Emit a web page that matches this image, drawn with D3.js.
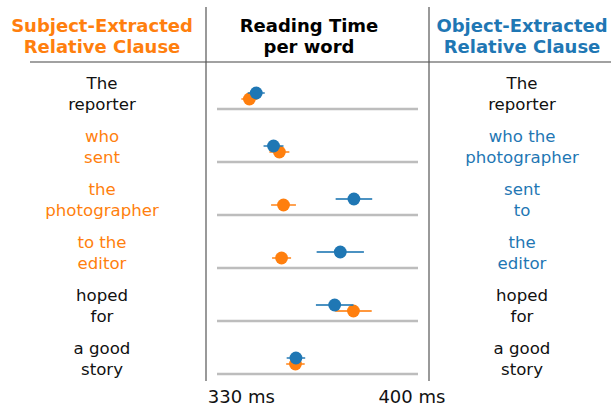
<!DOCTYPE html>
<html><head><meta charset="utf-8">
<script src="https://cdn.jsdelivr.net/npm/d3@7"></script>
<style>body{margin:0;background:#fff}svg{display:block}</style>
</head><body>
<svg id="c" width="611" height="407"></svg>
<script>
const subjLabels = [["The","reporter"],["who","sent"],["the","photographer"],["to the","editor"],["hoped","for"],["a good","story"]];
const objLabels  = [["The","reporter"],["who the","photographer"],["sent","to"],["the","editor"],["hoped","for"],["a good","story"]];
const subjHighlight = [false,true,true,true,false,false];
const objHighlight  = [false,true,true,true,false,false];
const subjTime = [333.3,345.6,347.3,346.5,376.0,352.2];
const subjErr  = [3.3,4.1,5.1,3.9,7.5,3.8];
const objTime  = [336.1,343.2,376.2,370.6,368.3,352.4];
const objErr   = [3.5,4.1,7.5,9.7,7.7,3.8];
const xTicks = [330,400];
const headers = [["Subject-Extracted","Relative Clause"],["Reading Time","per word"],["Object-Extracted","Relative Clause"]];

const ORANGE = "#ff7f0e", BLUE = "#1f77b4";
const svg = d3.select("#c");
const font = "DejaVu Sans, sans-serif";

const x = d3.scaleLinear().domain([320,402.5]).range([217,418]);
const y = d3.scalePoint().domain(d3.range(6)).range([109,374]);
const colX = [102, 309, 522];

// header texts
headers.forEach((h,i)=>{
  const t = svg.append("text").attr("x",colX[i]).attr("y",31.5)
    .attr("text-anchor","middle").attr("font-family",font).attr("font-weight","bold")
    .attr("font-size",18).attr("fill",[ORANGE,"#000",BLUE][i]);
  h.forEach((s,j)=>t.append("tspan").attr("x",colX[i]).attr("dy",j?21.5:0).text(s));
});

// frame lines
svg.append("line").attr("x1",30).attr("x2",611).attr("y1",62).attr("y2",62).attr("stroke","#444").attr("stroke-width",1.2);
[206,429].forEach(v=>svg.append("line").attr("x1",v).attr("x2",v).attr("y1",7).attr("y2",381).attr("stroke","#555").attr("stroke-width",1.2));

// baselines
svg.selectAll(".base").data(d3.range(6)).join("line").attr("class","base")
  .attr("x1",x.range()[0]).attr("x2",x.range()[1]).attr("y1",d=>y(d)).attr("y2",d=>y(d))
  .attr("stroke","#bdbdbd").attr("stroke-width",2.5);

// row labels
function labels(arr, hl, cx, color){
  arr.forEach((lines,i)=>{
    const t = svg.append("text").attr("x",cx).attr("y",y(i)-20)
      .attr("text-anchor","middle").attr("font-family",font).attr("font-size",16.6)
      .attr("fill",hl[i]?color:"#111");
    lines.forEach((s,j)=>t.append("tspan").attr("x",cx).attr("dy",j?21:0).text(s));
  });
}
labels(subjLabels, subjHighlight, colX[0], ORANGE);
labels(objLabels, objHighlight, colX[2], BLUE);

// points
function series(vals, errs, off, color){
  const g = svg.append("g");
  g.selectAll("line").data(vals).join("line")
    .attr("x1",(d,i)=>x(d-errs[i])).attr("x2",(d,i)=>x(d+errs[i]))
    .attr("y1",(d,i)=>y(i)+off).attr("y2",(d,i)=>y(i)+off)
    .attr("stroke",color).attr("stroke-width",1.8).attr("opacity",0.8);
  g.selectAll("circle").data(vals).join("circle")
    .attr("cx",d=>x(d)).attr("cy",(d,i)=>y(i)+off).attr("r",6.4).attr("fill",color);
}
series(subjTime, subjErr, -10, ORANGE);
series(objTime, objErr, -16, BLUE);

// x tick labels
svg.selectAll(".tick").data(xTicks).join("text").attr("class","tick")
  .attr("x",d=>x(d)).attr("y",403).attr("text-anchor","middle")
  .attr("font-family",font).attr("font-size",18).attr("fill","#111")
  .text(d=>d+" ms");
</script>
</body></html>
